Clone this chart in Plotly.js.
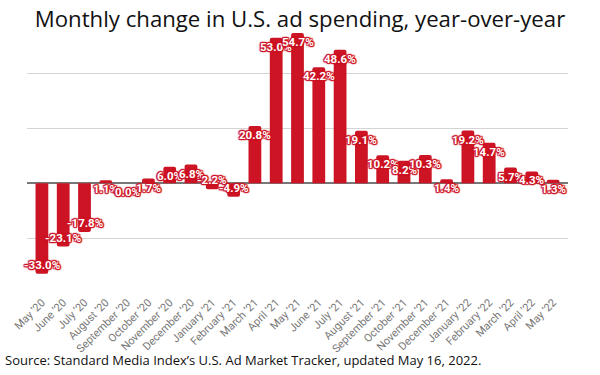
<!DOCTYPE html>
<html>
<head>
<meta charset="utf-8">
<script src="https://cdn.plot.ly/plotly-3.0.1.min.js"></script>
<style>html,body{margin:0;padding:0;background:#fff;}#chart{width:600px;height:375px;}</style>
</head>
<body>
<div id="chart"></div>
<script>
const months = ["May ’20","June ’20","July ’20","August ’20","September ’20","October ’20","November ’20","December ’20","January ’21","February ’21","March ’21","April ’21","May ’21","June ’21","July ’21","August ’21","September ’21","October ’21","November ’21","December ’21","January ’22","February ’22","March ’22","April ’22","May ’22"];
const changePct = [-33.0,-23.1,-17.8,1.1,0.0,1.7,6.0,6.8,-2.2,-4.9,20.8,53.0,54.7,42.2,48.6,19.1,10.2,8.2,10.3,1.4,19.2,14.7,5.7,4.3,1.3];
const titleText = "Monthly change in U.S. ad spending, year-over-year";
const sourceText = "Source: Standard Media Index’s U.S. Ad Market Tracker, updated May 16, 2022.";

const red = "#cc1424";
const halo = [[1,0],[-1,0],[0,1],[0,-1],[1,1],[-1,-1],[1,-1],[-1,1]].map(d=>d[0]+"px "+d[1]+"px 1px "+red).join(", ");

const labelAnns = months.map((m,i)=>({
  x: m, y: changePct[i], xref:'x', yref:'y',
  text: changePct[i].toFixed(1)+'%',
  showarrow:false,
  yshift: changePct[i] >= 0 ? -9 : 9,
  font:{family:'Roboto, sans-serif', size:11.5, color:'#fff', weight:'bold', shadow: halo}
}));

const layout = {
  width:600, height:375,
  margin:{l:27, r:32, t:24, b:82},
  paper_bgcolor:'#fff', plot_bgcolor:'#fff',
  showlegend:false,
  bargap:0.4,
  title:{text:titleText, x:0.5, xref:'container', xanchor:'center', y:0.95, yref:'container', yanchor:'middle',
    font:{family:'"Open Sans", sans-serif', size:22.2, color:'#111'}},
  xaxis:{type:'category', range:[-0.7,24.7], tickangle:-45, ticks:'', showgrid:false, showline:false,
    tickfont:{family:'Roboto, sans-serif', size:11, color:'#777'}, automargin:false},
  yaxis:{range:[-40,58], dtick:20, showticklabels:false, ticks:'', showgrid:true, gridcolor:'#d4d4d4', gridwidth:1,
    zeroline:true, zerolinecolor:'#777', zerolinewidth:1.5, automargin:false},
  annotations: labelAnns.concat([{
    text: sourceText, showarrow:false, xref:'paper', yref:'paper', x:-0.0444, y:-0.2486, xanchor:'left', yanchor:'middle',
    font:{family:'"Open Sans", sans-serif', size:13, color:'#111'}
  }])
};

const trace = {type:'bar', x:months, y:changePct, marker:{color:red, cornerradius:2}, hoverinfo:'none', textposition:'none'};
Plotly.newPlot('chart',[trace],layout,{displayModeBar:false,staticPlot:true});
</script>
</body>
</html>
